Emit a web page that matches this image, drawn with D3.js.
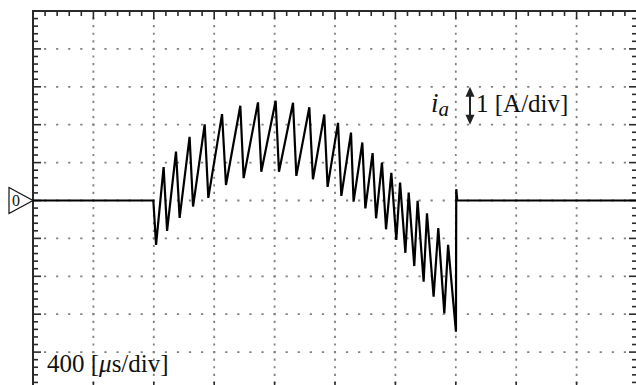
<!DOCTYPE html>
<html>
<head>
<meta charset="utf-8">
<script src="https://cdn.jsdelivr.net/npm/d3@7"></script>
<style>
  body { margin: 0; background: #fff; }
  svg { display: block; }
</style>
</head>
<body>
<svg width="636" height="385" font-family="'Liberation Serif', 'DejaVu Serif', serif"></svg>
<script>
// scope screen: 10 x 10 divisions, 400 us/div, 1 A/div
var xDomain = [0, 4000];      // time [us]
var yDomain = [-5, 5];        // current [A]
var xMajor = 400, xMinor = 80;
var yMajor = 1, yMinor = 0.2;

// phase current i_a (time in us, current in A)
var timeUs = [0, 797, 815, 865, 888, 947, 971, 1037, 1060, 1137, 1161, 1252, 1278,
    1373, 1395, 1490, 1512, 1607, 1629, 1722, 1744, 1830, 1854, 1929, 1951,
    2020, 2042, 2106, 2123, 2181, 2201, 2249, 2272, 2311, 2338, 2373, 2406,
    2431, 2466, 2488, 2525, 2547, 2587, 2609, 2653, 2684, 2724, 2749, 2801,
    2803, 2810, 4000];
var currentA = [0, 0, -1.17, 0.88, -0.80, 1.29, -0.46, 1.68, -0.16, 2.01, 0.07, 2.28, 0.41,
    2.50, 0.59, 2.59, 0.76, 2.63, 0.76, 2.58, 0.65, 2.46, 0.56, 2.27, 0.36,
    2.05, 0.12, 1.79, -0.03, 1.53, -0.21, 1.25, -0.47, 1.00, -0.76, 0.73, -1.04,
    0.47, -1.38, 0.21, -1.73, -0.01, -2.14, -0.34, -2.54, -0.73, -2.98, -1.17, -3.46,
    0.30, 0, 0];

var chLabel = "0";
var ampLabel = "1 [A/div]";
var timeLabel = "400 [";
var timeLabelEnd = "s/div]";

var plot = {left: 33, top: 11, width: 604, height: 379};

var svg = d3.select("svg");

var x = d3.scaleLinear().domain(xDomain).range([plot.left, plot.left + plot.width]);
var y = d3.scaleLinear().domain(yDomain).range([plot.top + plot.height, plot.top]);

var majorX = d3.range(xDomain[0], xDomain[1] + 1, xMajor);
var majorY = d3.range(yDomain[0], yDomain[1] + 0.001, yMajor);
var minorX = d3.range(xDomain[0], xDomain[1] + 1, xMinor);
var minorY = d3.range(0, 50.5, 1).map(function(k) { return yDomain[0] + k * yMinor; });

// dotted grid, one dot per minor step
var stepX = x(xMinor) - x(0);
var stepY = y(0) - y(yMinor);
var grid = svg.append("g").attr("stroke", "#808080").attr("stroke-width", 1.8);

grid.selectAll("line.h")
    .data(majorY.slice(1, -1))
    .enter().append("line")
        .attr("class", "h")
        .attr("x1", x(xDomain[0])).attr("x2", x(xDomain[1]))
        .attr("y1", function(d) { return y(d); })
        .attr("y2", function(d) { return y(d); })
        .attr("stroke-dasharray", "2.2," + (stepX - 2.2))
        .attr("stroke-dashoffset", 1.1);

grid.selectAll("line.v")
    .data(majorX.slice(1, -1))
    .enter().append("line")
        .attr("class", "v")
        .attr("y1", y(yDomain[1])).attr("y2", y(yDomain[0]))
        .attr("x1", function(d) { return x(d); })
        .attr("x2", function(d) { return x(d); })
        .attr("stroke-dasharray", "2.2," + (stepY - 2.2))
        .attr("stroke-dashoffset", 1.1);

// frame with ticks on every side
var frame = svg.append("g").attr("stroke", "#2a2a2a");
frame.append("rect")
    .attr("x", x(xDomain[0])).attr("y", y(yDomain[1]))
    .attr("width", x(xDomain[1]) - x(xDomain[0]))
    .attr("height", y(yDomain[0]) - y(yDomain[1]))
    .attr("fill", "none").attr("stroke-width", 2);

function tickLen(v, major) {
    return Math.abs(v / major - Math.round(v / major)) < 1e-6 ? 8 : 5;
}

frame.selectAll("line.tt")
    .data(minorX)
    .enter().append("line")
        .attr("x1", function(d) { return x(d); })
        .attr("x2", function(d) { return x(d); })
        .attr("y1", y(yDomain[1]))
        .attr("y2", function(d) { return y(yDomain[1]) + tickLen(d, xMajor); })
        .attr("stroke-width", 1.6);

frame.selectAll("line.tb")
    .data(minorX)
    .enter().append("line")
        .attr("x1", function(d) { return x(d); })
        .attr("x2", function(d) { return x(d); })
        .attr("y1", y(yDomain[0]))
        .attr("y2", function(d) { return y(yDomain[0]) - tickLen(d, xMajor); })
        .attr("stroke-width", 1.6);

frame.selectAll("line.tl")
    .data(minorY)
    .enter().append("line")
        .attr("y1", function(d) { return y(d); })
        .attr("y2", function(d) { return y(d); })
        .attr("x1", x(xDomain[0]))
        .attr("x2", function(d) { return x(xDomain[0]) + tickLen(d, yMajor); })
        .attr("stroke-width", 1.6);

frame.selectAll("line.tr")
    .data(minorY)
    .enter().append("line")
        .attr("y1", function(d) { return y(d); })
        .attr("y2", function(d) { return y(d); })
        .attr("x1", x(xDomain[1]))
        .attr("x2", function(d) { return x(xDomain[1]) - tickLen(d, yMajor); })
        .attr("stroke-width", 1.6);

// the trace
var trace = timeUs.map(function(t, i) { return [t, currentA[i]]; });
var line = d3.line()
    .x(function(d) { return x(d[0]); })
    .y(function(d) { return y(d[1]); });

svg.append("path")
    .datum(trace)
    .attr("d", line)
    .attr("fill", "none")
    .attr("stroke", "#000")
    .attr("stroke-width", 2.2)
    .attr("stroke-linejoin", "miter")
    .attr("stroke-miterlimit", 4);

// ground marker on the left
var y0 = y(0);
svg.append("path")
    .attr("d", "M" + (x(0) - 24) + "," + (y0 - 13) + "L" + x(0) + "," + y0 +
        "L" + (x(0) - 24) + "," + (y0 + 13) + "Z")
    .attr("fill", "#fff").attr("stroke", "#111").attr("stroke-width", 1.2);
svg.append("text")
    .attr("x", x(0) - 21).attr("y", y0 + 5.5)
    .attr("font-size", 16)
    .attr("fill", "#111")
    .text(chLabel);

// scale annotations
var ia = svg.append("text")
    .attr("x", 431).attr("y", 112)
    .attr("font-size", 27)
    .attr("font-style", "italic")
    .attr("fill", "#111");
ia.append("tspan").text("i");
ia.append("tspan").attr("font-size", 21).attr("dy", 4).text("a");

var arrX = 470, arrTop = y(3), arrBot = y(2);
svg.append("line")
    .attr("x1", arrX).attr("x2", arrX)
    .attr("y1", arrTop + 6).attr("y2", arrBot - 6)
    .attr("stroke", "#222").attr("stroke-width", 2);
svg.append("path")
    .attr("d", "M" + arrX + "," + arrTop + "l-4.5,10l9,0Z" +
        "M" + arrX + "," + arrBot + "l-4.5,-10l9,0Z")
    .attr("fill", "#222");

svg.append("text")
    .attr("x", 476).attr("y", 112)
    .attr("font-size", 25)
    .attr("fill", "#111")
    .text(ampLabel);

var tl = svg.append("text")
    .attr("x", 47).attr("y", 372)
    .attr("font-size", 25)
    .attr("fill", "#111");
tl.append("tspan").text(timeLabel);
tl.append("tspan").attr("font-style", "italic").text("\u03bc");
tl.append("tspan").text(timeLabelEnd);
</script>
</body>
</html>
